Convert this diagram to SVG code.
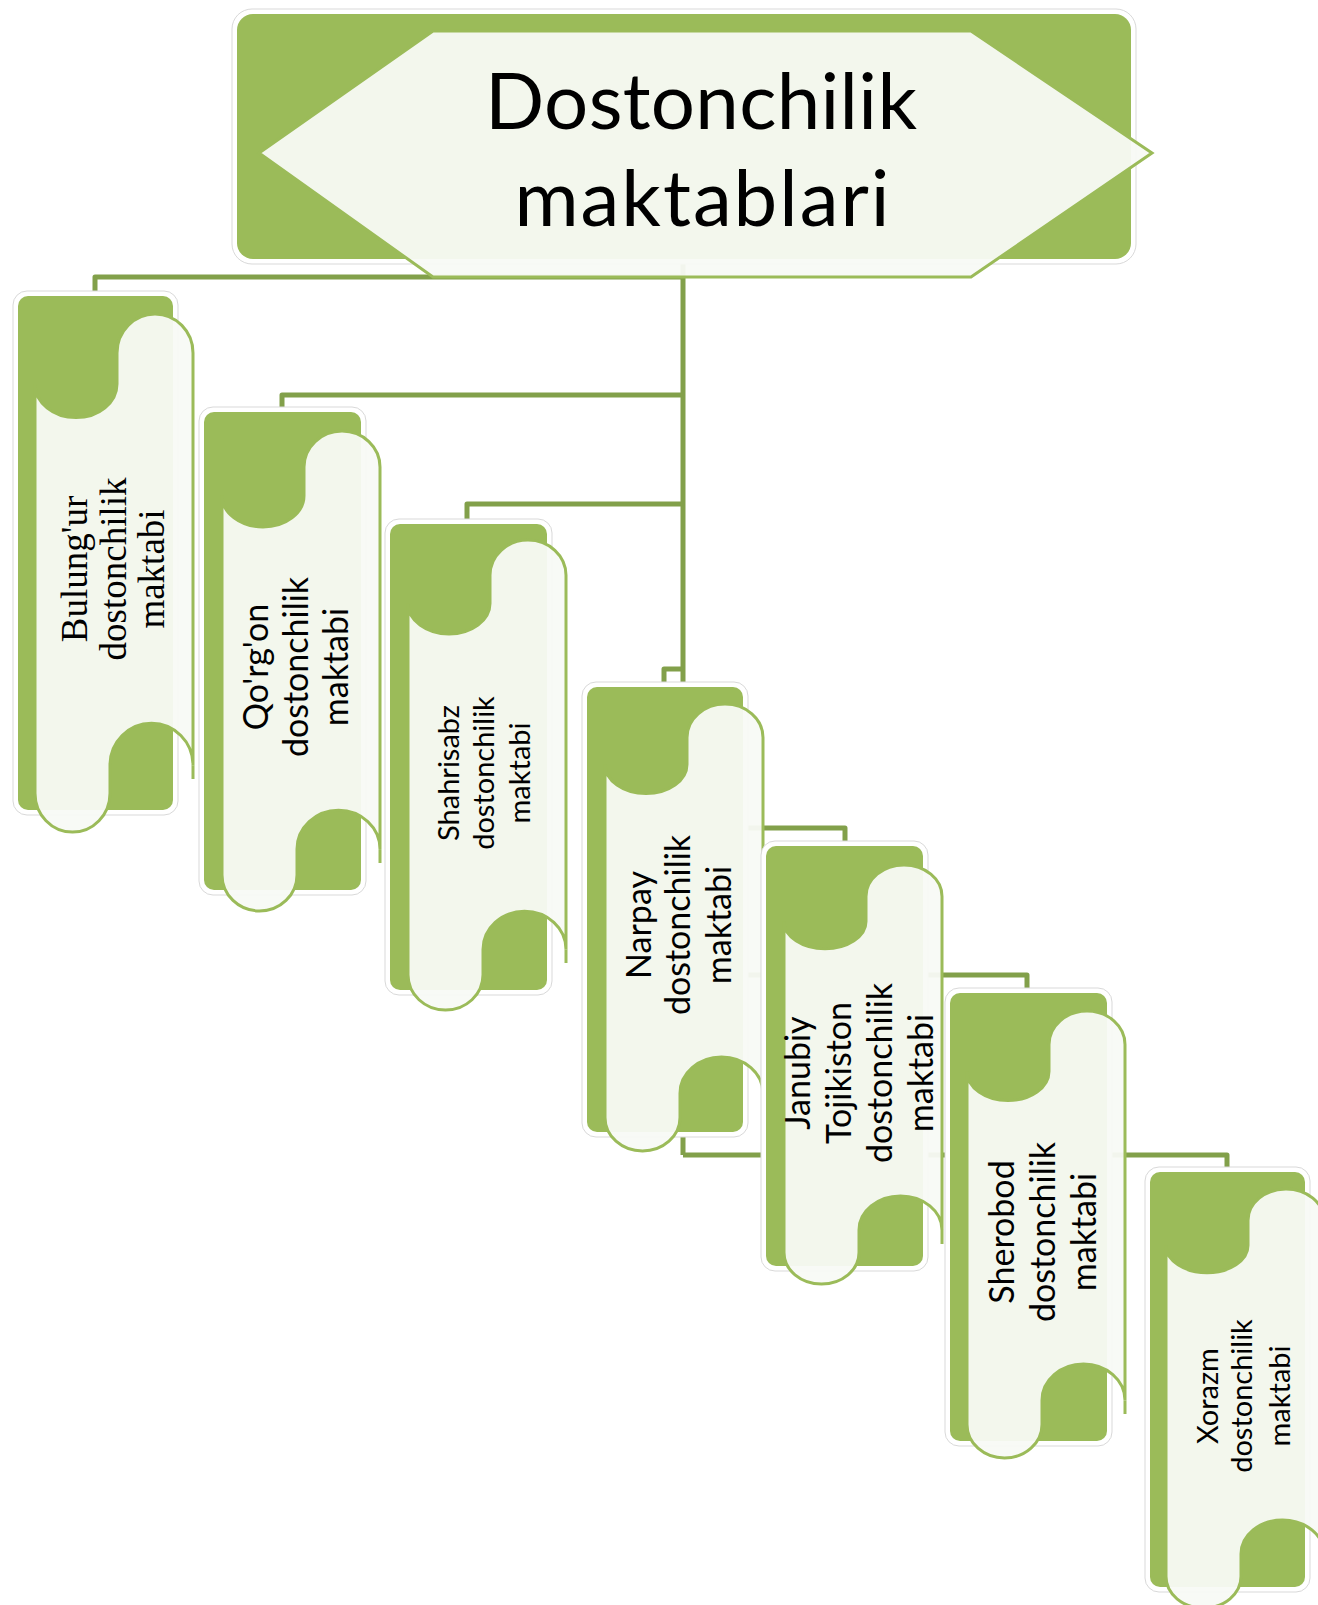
<svg xmlns="http://www.w3.org/2000/svg" width="1318" height="1605" viewBox="0 0 1318 1605">
<style>
.halo{fill:#fff;stroke:#D9D9D9;stroke-width:1}
.g{fill:#9BBB59}
.scroll{fill:#F8FAF6;fill-opacity:.95;stroke:#9BBB59;stroke-width:3}
.tail{fill:none;stroke:#9BBB59;stroke-width:3}
.conn path{fill:none;stroke:#82A04A;stroke-width:5;stroke-linejoin:round}
.t{font-family:Lato,"Open Sans",sans-serif;fill:#000}
.s34{font-size:34px}
.s29{font-size:29px}
.serif{font-family:"Liberation Serif","DejaVu Serif",serif;font-size:37px;fill:#000}
</style>
<rect width="1318" height="1605" fill="#fff"/>
<g id="connectors" class="conn">
<path d="M683,262 V1155"/>
<path d="M683,277 H95 V296"/>
<path d="M683,395 H282 V412"/>
<path d="M683,504 H467 V524"/>
<path d="M683,669 H664 V687"/>
<path d="M683,828 H845 V846"/>
<path d="M683,975 H1027 V993"/>
<path d="M683,1155 H1227 V1172"/>
</g>
<g id="root">
<rect class="halo" x="232" y="9" width="904" height="255" rx="20"/>
<rect class="g" x="237" y="14" width="894" height="245" rx="16"/>
<polygon class="scroll" points="259,153 433,31 971,31 1152,153 971,277 433,277"/>
<text class="t" x="701" y="129" font-size="78" text-anchor="middle" textLength="432">Dostonchilik</text>
<text class="t" x="702" y="226" font-size="78" text-anchor="middle" textLength="375">maktablari</text>
</g>
<g id="n1">
<rect class="halo" x="13" y="291" width="165" height="524" rx="14"/>
<rect class="g" x="18" y="296" width="155" height="514" rx="10"/>
<path class="scroll" d="M35,383.9 A41,33.7 0 0 0 117,383.9 L117,352.9 A38,38.9 0 0 1 193,352.9 L193,765.2 A41.5,42 0 0 0 110,765.2 L110,793.2 A37.5,38.9 0 0 1 35,793.2 Z"/>
<path class="tail" d="M193,765.2 V779"/>
<text class="serif" transform="translate(87,569) rotate(-90)" text-anchor="middle">Bulung'ur</text>
<text class="serif" transform="translate(126,569) rotate(-90)" text-anchor="middle">dostonchilik</text>
<text class="serif" transform="translate(164,569) rotate(-90)" text-anchor="middle">maktabi</text>
</g>
<g id="n2">
<rect class="halo" x="199" y="407" width="167" height="488" rx="14"/>
<rect class="g" x="204" y="412" width="157" height="478" rx="10"/>
<path class="scroll" d="M222,495.8 A41,31.2 0 0 0 304,495.8 L304,467 A38,36 0 0 1 380,467 L380,849.1 A41.5,38.9 0 0 0 297,849.1 L297,875 A37.5,36 0 0 1 222,875 Z"/>
<path class="tail" d="M380,849.1 V863"/>
<text class="t s34" transform="translate(268,667) rotate(-90)" text-anchor="middle">Qo'rg'on</text>
<text class="t s34" transform="translate(308,667) rotate(-90)" text-anchor="middle">dostonchilik</text>
<text class="t s34" transform="translate(348,667) rotate(-90)" text-anchor="middle">maktabi</text>
</g>
<g id="n3">
<rect class="halo" x="385" y="519" width="167" height="476" rx="14"/>
<rect class="g" x="390" y="524" width="157" height="466" rx="10"/>
<path class="scroll" d="M408,603.5 A41,30.6 0 0 0 490,603.5 L490,575.3 A38,35.3 0 0 1 566,575.3 L566,949.4 A41.5,38.1 0 0 0 483,949.4 L483,974.8 A37.5,35.3 0 0 1 408,974.8 Z"/>
<path class="tail" d="M566,949.4 V963"/>
<text class="t s29" transform="translate(459,773) rotate(-90)" text-anchor="middle">Shahrisabz</text>
<text class="t s29" transform="translate(494,773) rotate(-90)" text-anchor="middle">dostonchilik</text>
<text class="t s29" transform="translate(530,773) rotate(-90)" text-anchor="middle">maktabi</text>
</g>
<g id="n4">
<rect class="halo" x="582" y="682" width="166" height="455" rx="14"/>
<rect class="g" x="587" y="687" width="156" height="445" rx="10"/>
<path class="scroll" d="M605,764.4 A41,29.1 0 0 0 687,764.4 L687,737.5 A38,33.5 0 0 1 763,737.5 L763,1093.3 A41.5,36.2 0 0 0 680,1093.3 L680,1117.5 A37.5,33.5 0 0 1 605,1117.5 Z"/>
<path class="tail" d="M763,1093.3 V1107"/>
<text class="t s34" transform="translate(651,925) rotate(-90)" text-anchor="middle">Narpay</text>
<text class="t s34" transform="translate(690,925) rotate(-90)" text-anchor="middle">dostonchilik</text>
<text class="t s34" transform="translate(731,925) rotate(-90)" text-anchor="middle">maktabi</text>
</g>
<g id="n5">
<rect class="halo" x="761" y="841" width="167" height="430" rx="14"/>
<rect class="g" x="766" y="846" width="157" height="420" rx="10"/>
<path class="scroll" d="M784,921.6 A41,27.2 0 0 0 866,921.6 L866,896.4 A38,31.4 0 0 1 942,896.4 L942,1229.9 A41.5,33.9 0 0 0 859,1229.9 L859,1252.6 A37.5,31.4 0 0 1 784,1252.6 Z"/>
<path class="tail" d="M942,1229.9 V1244"/>
<text class="t s34" transform="translate(810,1073) rotate(-90)" text-anchor="middle">Janubiy</text>
<text class="t s34" transform="translate(851,1073) rotate(-90)" text-anchor="middle">Tojikiston</text>
<text class="t s34" transform="translate(892,1073) rotate(-90)" text-anchor="middle">dostonchilik</text>
<text class="t s34" transform="translate(933,1073) rotate(-90)" text-anchor="middle">maktabi</text>
</g>
<g id="n6">
<rect class="halo" x="945" y="988" width="167" height="458" rx="14"/>
<rect class="g" x="950" y="993" width="157" height="448" rx="10"/>
<path class="scroll" d="M967,1071.4 A41,29.1 0 0 0 1049,1071.4 L1049,1044.5 A38,33.5 0 0 1 1125,1044.5 L1125,1400.3 A41.5,36.2 0 0 0 1042,1400.3 L1042,1424.5 A37.5,33.5 0 0 1 967,1424.5 Z"/>
<path class="tail" d="M1125,1400.3 V1414"/>
<text class="t s34" transform="translate(1014,1232) rotate(-90)" text-anchor="middle">Sherobod</text>
<text class="t s34" transform="translate(1055,1232) rotate(-90)" text-anchor="middle">dostonchilik</text>
<text class="t s34" transform="translate(1096,1232) rotate(-90)" text-anchor="middle">maktabi</text>
</g>
<g id="n7">
<rect class="halo" x="1145" y="1167" width="165" height="425" rx="14"/>
<rect class="g" x="1150" y="1172" width="155" height="415" rx="10"/>
<path class="scroll" d="M1166,1245.6 A41,27.2 0 0 0 1248,1245.6 L1248,1220.4 A38,31.4 0 0 1 1324,1220.4 L1324,1553.9 A41.5,33.9 0 0 0 1241,1553.9 L1241,1576.6 A37.5,31.4 0 0 1 1166,1576.6 Z"/>
<path class="tail" d="M1324,1553.9 V1568"/>
<text class="t s29" transform="translate(1218,1396) rotate(-90)" text-anchor="middle">Xorazm</text>
<text class="t s29" transform="translate(1252,1396) rotate(-90)" text-anchor="middle">dostonchilik</text>
<text class="t s29" transform="translate(1290,1396) rotate(-90)" text-anchor="middle">maktabi</text>
</g>
</svg>
